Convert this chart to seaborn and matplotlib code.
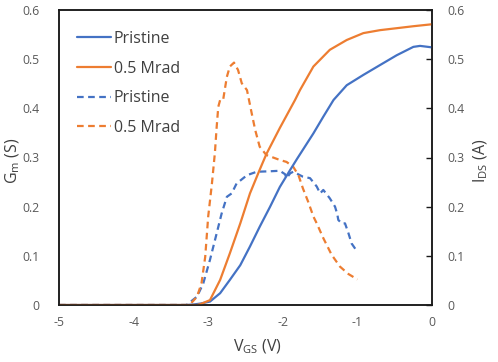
import pandas as pd
import matplotlib
matplotlib.use("Agg")
import matplotlib.pyplot as plt
import seaborn as sns

# I_DS (solid lines, right axis)
vgs_ids_pristine = [-5, -3.3, -3.2, -3.1, -2.976, -2.84, -2.71, -2.57, -2.44, -2.31, -2.17,
                    -2.04, -1.90, -1.81, -1.59, -1.457, -1.32, -1.143, -0.92, -0.697,
                    -0.473, -0.25, -0.16, 0]
ids_pristine = [0, 0, 0.001, 0.003, 0.007, 0.024, 0.051, 0.081, 0.119, 0.159, 0.2,
                0.24, 0.275, 0.297, 0.349, 0.383, 0.417, 0.447, 0.468, 0.488,
                0.508, 0.525, 0.527, 0.524]

vgs_ids_rad = [-5, -3.15, -3.1, -2.976, -2.84, -2.71, -2.57, -2.44, -2.31, -2.22, -2.04,
               -1.836, -1.77, -1.59, -1.37, -1.143, -0.92, -0.697, -0.473, -0.25, 0]
ids_rad = [0, 0, 0.002, 0.01, 0.051, 0.105, 0.166, 0.227, 0.275, 0.307, 0.36,
           0.417, 0.437, 0.485, 0.519, 0.539, 0.553, 0.559, 0.563, 0.567, 0.571]

# Gm (dashed lines, left axis)
vgs_gm_pristine = [-5, -3.29, -3.15, -3.066, -2.976, -2.886, -2.82, -2.75, -2.685, -2.62,
                   -2.48, -2.35, -2.17, -2.04, -1.97, -1.95, -1.90, -1.86, -1.77, -1.73,
                   -1.635, -1.545, -1.5, -1.457, -1.37, -1.30, -1.27, -1.256, -1.21,
                   -1.166, -1.12, -1.077, -1.0]
gm_pristine = [0, 0, 0.017, 0.044, 0.092, 0.146, 0.186, 0.22, 0.227, 0.247,
               0.264, 0.271, 0.272, 0.273, 0.266, 0.258, 0.268, 0.271, 0.264, 0.261,
               0.258, 0.241, 0.227, 0.234, 0.217, 0.2, 0.185, 0.173, 0.166,
               0.166, 0.146, 0.125, 0.108]

vgs_gm_rad = [-5, -3.25, -3.15, -3.09, -3.04, -3.0, -2.95, -2.91, -2.886, -2.865, -2.84,
              -2.80, -2.75, -2.71, -2.654, -2.60, -2.55, -2.48, -2.417, -2.37, -2.31,
              -2.22, -2.04, -1.95, -1.86, -1.79, -1.73, -1.66, -1.59, -1.545, -1.457,
              -1.345, -1.233, -1.12, -1.0]
gm_rad = [0, 0, 0.017, 0.044, 0.098, 0.18, 0.247, 0.31, 0.363, 0.403, 0.417,
          0.417, 0.464, 0.485, 0.493, 0.478, 0.451, 0.437, 0.39, 0.356, 0.322,
          0.305, 0.295, 0.291, 0.281, 0.264, 0.237, 0.21, 0.18, 0.166, 0.136,
          0.102, 0.078, 0.063, 0.052]

x_ticks = [-5, -4, -3, -2, -1, 0]
y_ticks = [0, 0.1, 0.2, 0.3, 0.4, 0.5, 0.6]

BLUE = "#4472C4"
ORANGE = "#ED7D31"
TXT = "#404040"
TICK = "#595959"

sns.set_style("white")
plt.rcParams["font.family"] = ["Open Sans", "DejaVu Sans"]
plt.rcParams["axes.unicode_minus"] = False

fig = plt.figure(figsize=(4.98, 3.62), dpi=100)
ax = fig.add_axes([59 / 498, 1 - 305 / 362, 373 / 498, 295 / 362])
ax2 = ax.twinx()

lw = 1.6
dash = (3, 2)

sns.lineplot(x=vgs_gm_pristine, y=gm_pristine, ax=ax, color=BLUE, lw=lw,
             estimator=None, linestyle=(0, dash), label="Pristine ")
sns.lineplot(x=vgs_gm_rad, y=gm_rad, ax=ax, color=ORANGE, lw=lw,
             estimator=None, linestyle=(0, dash), label="0.5 Mrad ")
sns.lineplot(x=vgs_ids_pristine, y=ids_pristine, ax=ax2, color=BLUE, lw=lw,
             estimator=None, label="Pristine")
sns.lineplot(x=vgs_ids_rad, y=ids_rad, ax=ax2, color=ORANGE, lw=lw,
             estimator=None, label="0.5 Mrad")

for a in (ax, ax2):
    a.set_xlim(-5, 0)
    a.set_ylim(0, 0.6)
    a.set_yticks(y_ticks)
    a.set_yticklabels([f"{v:g}" for v in y_ticks])
    for s in a.spines.values():
        s.set_color("#1a1a1a")
        s.set_linewidth(1.1)
    if a.get_legend() is not None:
        a.get_legend().remove()

ax.set_xticks(x_ticks)
ax.set_xticklabels([f"{v:g}" for v in x_ticks])
ax.tick_params(axis="x", direction="in", length=4, width=1, color="#1a1a1a",
               labelsize=8.8, labelcolor=TICK, pad=8)
ax.tick_params(axis="y", length=0, labelsize=8.8, labelcolor=TICK, pad=14)
ax2.tick_params(axis="y", direction="in", length=4, width=1, color="#1a1a1a",
                labelsize=8.8, labelcolor=TICK, pad=11)

ax.set_xlabel(r"V$_{\mathregular{GS}}$ (V)", fontsize=11.5, color=TXT)
ax.xaxis.label.set_va("center")
ax.xaxis.set_label_coords(0.531, -0.141)
ax.set_ylabel(r"G$_{\mathregular{m}}$ (S)", fontsize=11.5, color=TXT)
ax.yaxis.label.set_va("center")
ax.yaxis.set_label_coords(-0.123, 0.49)
ax2.set_ylabel(r"I$_{\mathregular{DS}}$ (A)", fontsize=11.5, color=TXT)
ax2.yaxis.label.set_va("center")
ax2.yaxis.set_label_coords(1.131, 0.49)

h1, l1 = ax.get_legend_handles_labels()
h2, l2 = ax2.get_legend_handles_labels()
leg = fig.legend(h2 + h1, [l.strip() for l in l2 + l1], loc="upper left",
                 bbox_to_anchor=(77 / 498, 1 - 31 / 362), frameon=False,
                 fontsize=11.5, handlelength=2.1, handletextpad=0.2,
                 labelspacing=0.85, borderpad=0, borderaxespad=0)
for t in leg.get_texts():
    t.set_color(TXT)

fig.savefig("out.png", dpi=100)
